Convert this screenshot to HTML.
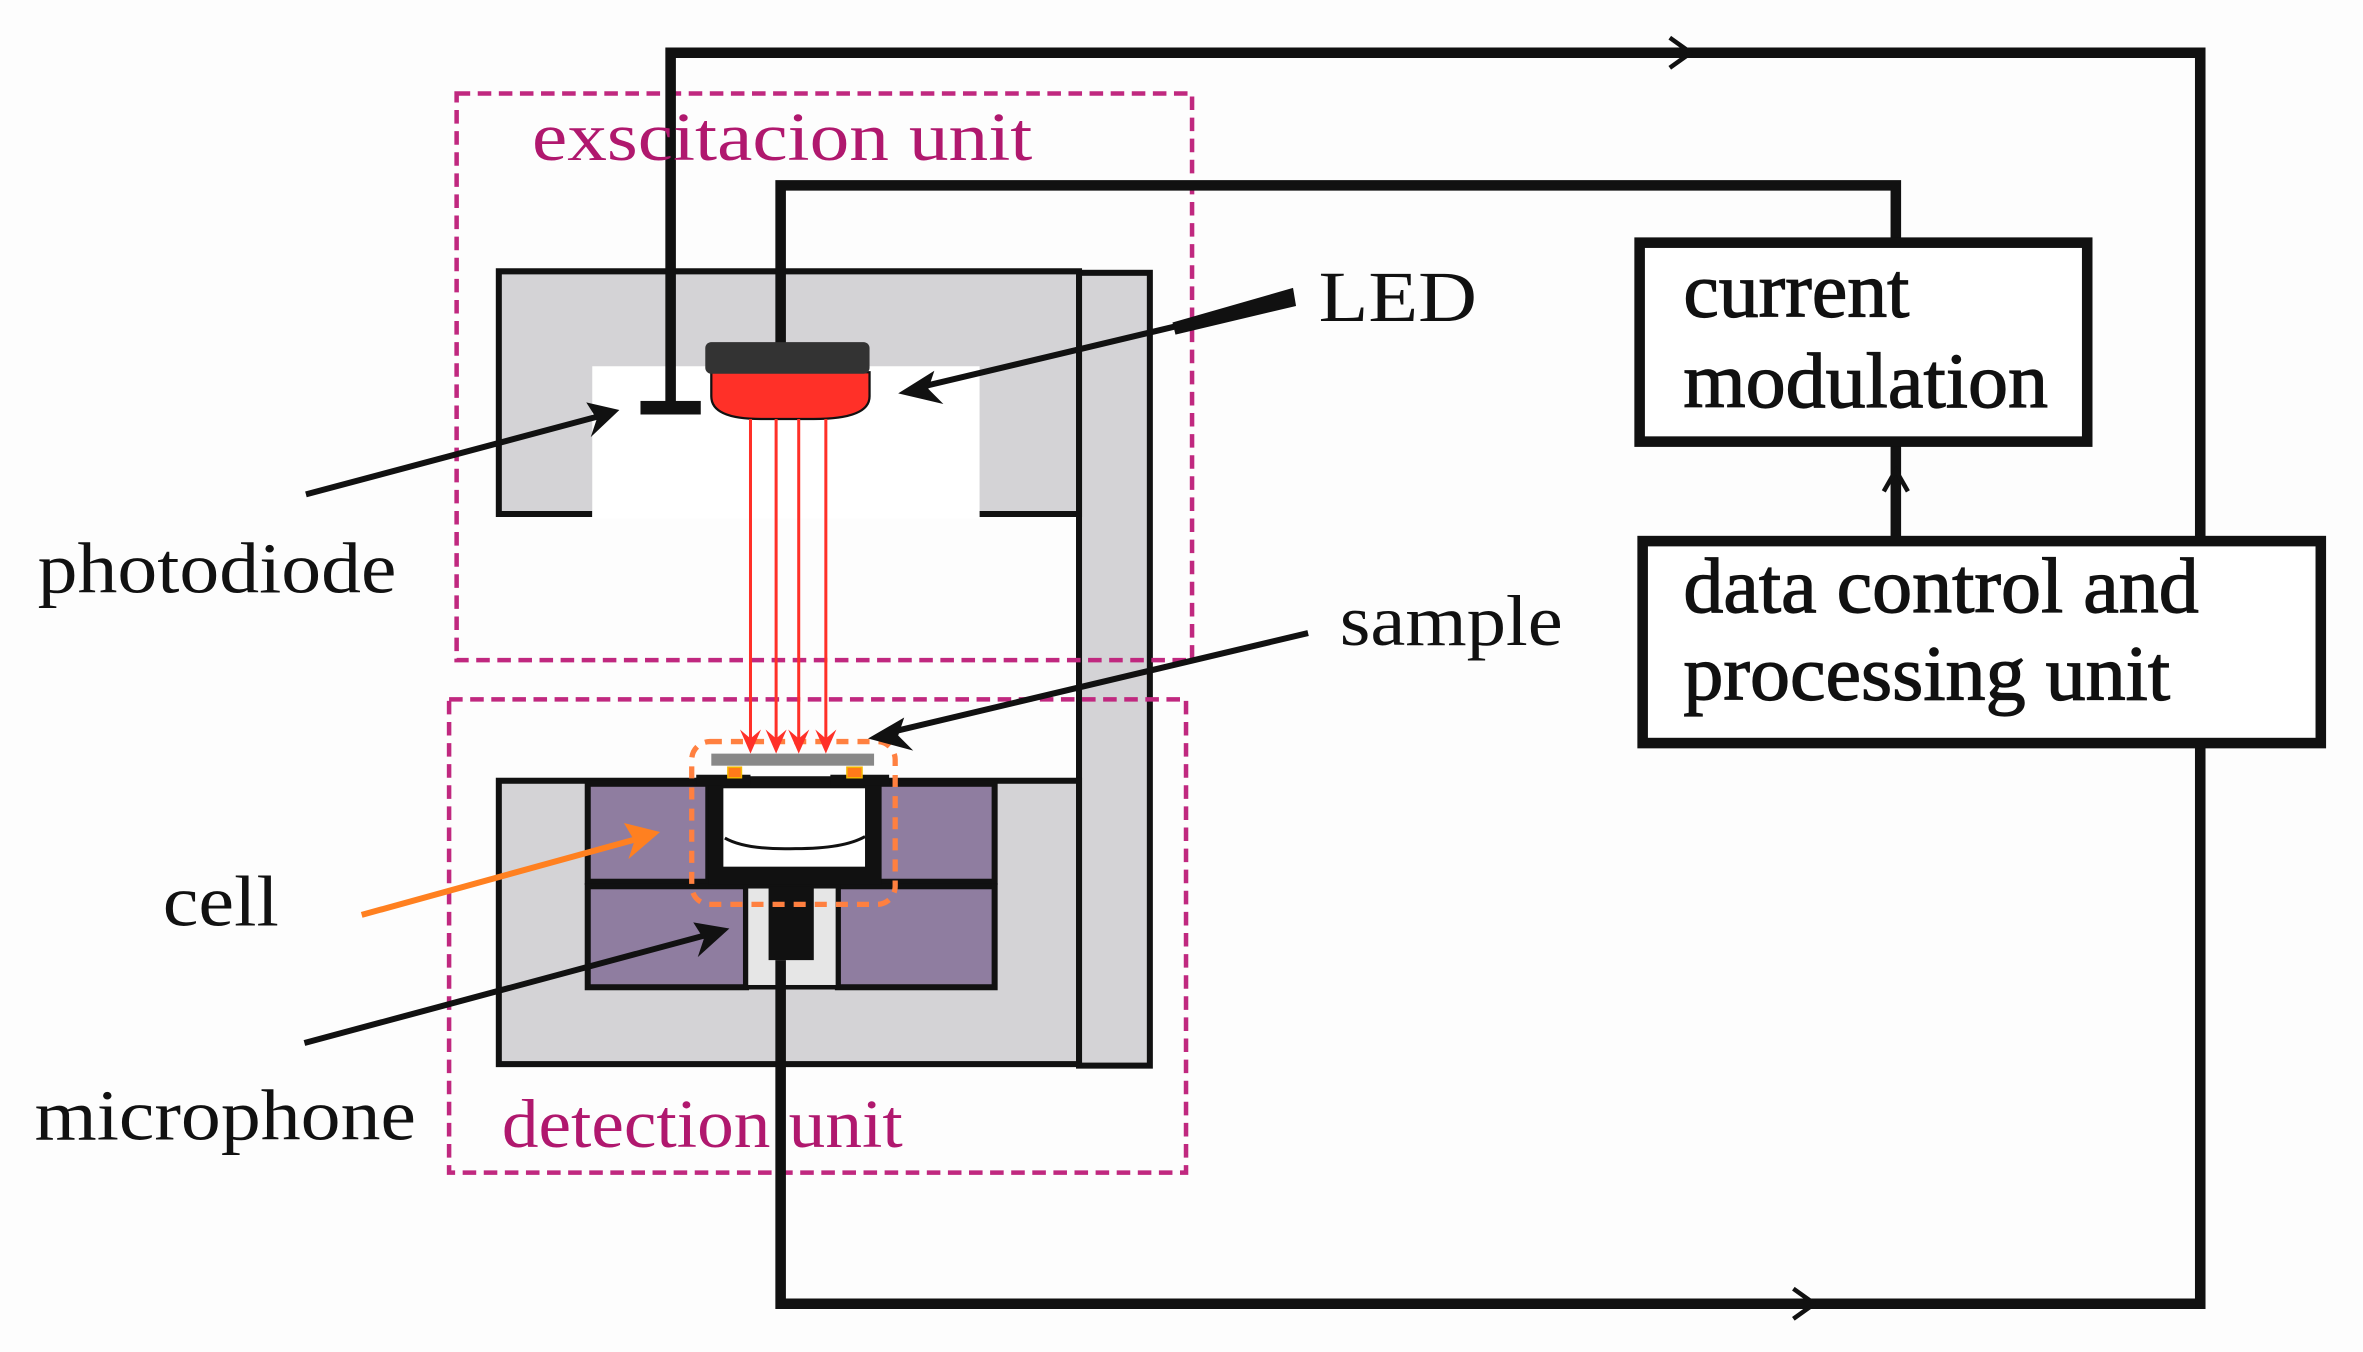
<!DOCTYPE html>
<html><head><meta charset="utf-8"><style>
html,body{margin:0;padding:0;background:#fff}
svg{display:block}
text{font-family:"Liberation Serif",serif}
</style></head><body>
<svg width="2363" height="1352" viewBox="0 0 1568 897" preserveAspectRatio="none" xmlns="http://www.w3.org/2000/svg">
<rect x="0" y="0" width="1568" height="897" fill="#fdfdfd"/>
<!-- upper housing -->
<rect x="716" y="181" width="47" height="526" fill="#d4d3d6" stroke="#111" stroke-width="4"/>
<rect x="331" y="180" width="385" height="161" fill="#d4d3d6"/>
<path d="M393,341 L331,341 L331,180 L716,180 L716,341 L650,341" fill="none" stroke="#111" stroke-width="4"/>
<rect x="393" y="243" width="257" height="101" fill="#fff"/>
<!-- lower housing -->
<rect x="331" y="518" width="385" height="188" fill="#d4d3d6" stroke="#111" stroke-width="4"/>
<rect x="390" y="520" width="80" height="65" fill="#8f7da0" stroke="#111" stroke-width="4"/>
<rect x="578" y="520" width="82" height="65" fill="#8f7da0" stroke="#111" stroke-width="4"/>
<rect x="390" y="588" width="105" height="67" fill="#8f7da0" stroke="#111" stroke-width="4"/>
<rect x="556" y="588" width="104" height="67" fill="#8f7da0" stroke="#111" stroke-width="4"/>
<rect x="495" y="588" width="61" height="67" fill="#e6e6e6" stroke="#111" stroke-width="3"/>
<rect x="510" y="588" width="30" height="49" fill="#111"/>
<!-- cell -->
<rect x="470" y="515" width="115" height="72" fill="#111"/>
<rect x="480" y="523" width="94" height="52" fill="#fff"/>
<path d="M481,556 Q495,564 528,563 Q560,563 574,555" fill="none" stroke="#111" stroke-width="2"/>
<rect x="462" y="514" width="36" height="7" fill="#111"/>
<rect x="551" y="514" width="39" height="7" fill="#111"/>
<rect x="472" y="500" width="108" height="8" fill="#888"/>
<rect x="483" y="509" width="9" height="7" fill="#ff7a1a" stroke="#f5b800" stroke-width="1"/>
<rect x="562" y="509" width="10" height="7" fill="#ff7a1a" stroke="#f5b800" stroke-width="1"/>
<rect x="459" y="492" width="135" height="108" rx="12" fill="none" stroke="#ff8040" stroke-width="3.5" stroke-dasharray="8,6"/>
<!-- dashed unit boxes -->
<rect x="303" y="62" width="488" height="376" fill="none" stroke="#c0287f" stroke-width="3" stroke-dasharray="9,5"/>
<rect x="298" y="464" width="489" height="314" fill="none" stroke="#c0287f" stroke-width="3" stroke-dasharray="9,5"/>
<!-- wires -->
<g fill="none" stroke="#111" stroke-width="7">
<path d="M445,270 L445,35 L1460,35 L1460,360"/>
<path d="M518,230 L518,123 L1258,123 L1258,160"/>
<path d="M1258,358 L1258,293"/>
<path d="M1460,493 L1460,865 L518,865 L518,637"/>
</g>
<g fill="none" stroke="#111" stroke-width="3">
<path d="M1108,25 L1122,35 L1108,45"/>
<path d="M1190,855 L1204,865 L1190,875"/>
<path d="M1250,326 L1258,312 L1266,326"/>
</g>
<rect x="425" y="266" width="40" height="9" fill="#111"/>
<!-- LED -->
<path d="M472,247 L577,247 L577,263 Q577,278 540,278 L505,278 Q472,278 472,263 Z" fill="#ff3028" stroke="#111" stroke-width="1.5"/>
<rect x="468" y="227" width="109" height="21" rx="4" fill="#333"/>
<!-- rays -->
<g stroke="#ff3028" stroke-width="2">
<line x1="498" y1="278" x2="498" y2="494"/><line x1="515" y1="278" x2="515" y2="494"/>
<line x1="530" y1="278" x2="530" y2="494"/><line x1="548" y1="278" x2="548" y2="494"/>
</g>
<g fill="#ff3028">
<path d="M491,484 L498,500 L505,484 L498,490Z"/><path d="M508,484 L515,500 L522,484 L515,490Z"/>
<path d="M523,484 L530,500 L537,484 L530,490Z"/><path d="M541,484 L548,500 L555,484 L548,490Z"/>
</g>
<!-- pointer arrows -->
<g stroke="#111" stroke-width="4">
<line x1="858" y1="198" x2="610" y2="257"/>
<line x1="203" y1="328" x2="398" y2="276"/>
<line x1="868" y1="420" x2="590" y2="486"/>
<line x1="202" y1="692" x2="470" y2="620"/>
</g>
<path d="M858,191 L860,203 L780,222 L778,214Z" fill="#111"/>
<g fill="#111">
<path d="M596,261 L620,246 L616,258 L626,268Z"/>
<path d="M411,272 L389,267 L396,278 L392,290Z"/>
<path d="M576,490 L600,476 L596,488 L606,498Z"/>
<path d="M484,616 L460,612 L467,623 L463,635Z"/>
</g>
<line x1="240" y1="607" x2="425" y2="556" stroke="#ff8020" stroke-width="4"/>
<path d="M438,552 L414,546 L421,558 L417,570Z" fill="#ff8020"/>
<!-- boxes -->
<rect x="1088" y="161" width="297" height="132" fill="#fff" stroke="#111" stroke-width="7"/>
<rect x="1090" y="359" width="450" height="134" fill="#fff" stroke="#111" stroke-width="7"/>
<g fill="#111" stroke="#111" stroke-width="0.8" font-size="52">
<text x="1117" y="210" textLength="150" lengthAdjust="spacingAndGlyphs">current</text>
<text x="1117" y="270" textLength="242" lengthAdjust="spacingAndGlyphs">modulation</text>
<text x="1117" y="406" textLength="342" lengthAdjust="spacingAndGlyphs">data control and</text>
<text x="1117" y="464" textLength="323" lengthAdjust="spacingAndGlyphs">processing unit</text>
</g>
<g fill="#111" font-size="48">
<text x="875" y="213" textLength="105" lengthAdjust="spacingAndGlyphs">LED</text>
<text x="25" y="393" textLength="238" lengthAdjust="spacingAndGlyphs">photodiode</text>
<text x="889" y="428" textLength="148" lengthAdjust="spacingAndGlyphs">sample</text>
<text x="108" y="614" textLength="77" lengthAdjust="spacingAndGlyphs">cell</text>
<text x="23" y="756" textLength="253" lengthAdjust="spacingAndGlyphs">microphone</text>
</g>
<g fill="#b0186e" font-size="46">
<text x="353" y="106" textLength="332" lengthAdjust="spacingAndGlyphs">exscitacion unit</text>
<text x="333" y="761" textLength="266" lengthAdjust="spacingAndGlyphs">detection unit</text>
</g>
</svg>
</body></html>
